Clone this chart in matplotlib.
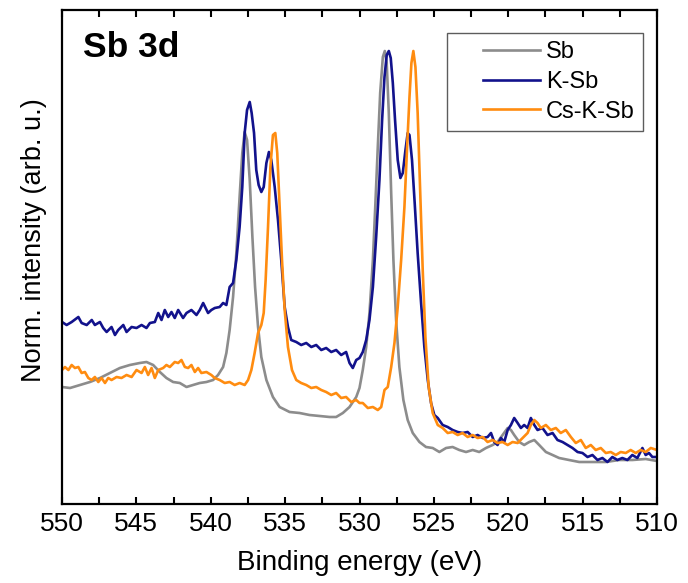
import numpy as np
import matplotlib
matplotlib.use("Agg")
import matplotlib.pyplot as plt
from matplotlib.lines import Line2D
from matplotlib.legend_handler import HandlerLine2D
from matplotlib.ticker import MultipleLocator

plt.rcParams["font.family"] = ["Liberation Sans", "DejaVu Sans"]

# Sb 3d XPS spectra: binding energy (eV) and raw intensity (arb. units)
sb_energy = [550.0, 549.46, 548.79, 548.12, 547.45, 546.78, 546.11, 545.44, 544.77, 544.32,
             543.87, 543.42, 542.98, 542.53, 542.08, 541.63, 541.19, 540.74, 540.29, 539.84,
             539.51, 539.17, 538.95, 538.73, 538.5, 538.28, 538.06, 537.88, 537.72, 537.56,
             537.38, 537.2, 537.02, 536.82, 536.6, 536.26, 535.82, 535.37, 534.7, 534.03,
             533.36, 532.68, 532.01, 531.57, 531.12, 530.67, 530.22, 530.0, 529.78, 529.55,
             529.33, 529.1, 528.93, 528.77, 528.61, 528.43, 528.3, 528.17, 528.03, 527.87,
             527.72, 527.54, 527.32, 527.05, 526.76, 526.42, 525.97, 525.53, 525.08, 524.63,
             524.18, 523.74, 523.29, 522.84, 522.39, 521.95, 521.5, 521.05, 520.72, 520.38,
             520.04, 519.82, 519.6, 519.26, 518.93, 518.59, 518.25, 517.92, 517.47, 517.02,
             516.58, 515.91, 515.23, 514.34, 513.44, 512.55, 511.66, 510.76, 510.0]
sb_counts = [117, 116, 119, 122, 126, 131, 136, 139, 141, 142,
             139, 132, 126, 122, 121, 117, 119, 121, 122, 124,
             129, 137, 151, 174, 207, 251, 307, 351, 372, 364,
             324, 267, 217, 177, 147, 124, 107, 97, 92, 91,
             89, 88, 87, 87, 91, 97, 107, 116, 134, 157,
             191, 244, 301, 357, 411, 447, 453, 441, 391, 311,
             244, 184, 137, 104, 84, 71, 62, 57, 56, 52,
             56, 57, 54, 52, 54, 52, 56, 59, 62, 69,
             76, 74, 69, 62, 59, 62, 64, 59, 52, 49,
             46, 44, 42, 42, 42, 44, 44, 45, 43]

ksb_energy = [550.0, 549.69, 549.35, 548.9, 548.68, 548.34, 548.0, 547.79, 547.45, 547.23,
              547.0, 546.67, 546.44, 546.22, 545.88, 545.66, 545.32, 544.99, 544.65, 544.32,
              544.09, 543.76, 543.53, 543.31, 543.09, 542.86, 542.64, 542.42, 542.19, 541.86,
              541.63, 541.3, 540.96, 540.74, 540.51, 540.18, 539.96, 539.73, 539.4, 539.17,
              538.95, 538.73, 538.5, 538.28, 538.06, 537.88, 537.72, 537.56, 537.38, 537.25,
              537.09, 536.94, 536.78, 536.6, 536.44, 536.26, 536.09, 535.93, 535.7, 535.48,
              535.26, 535.03, 534.81, 534.59, 534.25, 533.92, 533.58, 533.24, 532.91, 532.57,
              532.24, 531.9, 531.57, 531.23, 530.9, 530.67, 530.45, 530.22, 530.0, 529.78,
              529.55, 529.33, 529.1, 528.88, 528.66, 528.48, 528.32, 528.17, 528.03, 527.9,
              527.76, 527.61, 527.43, 527.25, 527.09, 526.91, 526.76, 526.64, 526.47, 526.29,
              526.09, 525.86, 525.64, 525.41, 525.19, 524.97, 524.74, 524.41, 524.07, 523.74,
              523.4, 523.07, 522.73, 522.39, 522.06, 521.72, 521.39, 521.16, 520.94, 520.72,
              520.49, 520.27, 520.04, 519.82, 519.6, 519.37, 519.15, 518.93, 518.7, 518.48,
              518.25, 518.03, 517.7, 517.36, 517.02, 516.69, 516.35, 516.02, 515.68, 515.34,
              515.01, 514.67, 514.34, 514.0, 513.67, 513.33, 513.0, 512.66, 512.33, 511.99,
              511.66, 511.32, 510.98, 510.76, 510.54, 510.31, 510.0]
ksb_counts = [182, 179, 182, 187, 181, 179, 184, 179, 182, 176,
              172, 177, 169, 174, 179, 172, 177, 176, 179, 176,
              181, 182, 191, 184, 194, 187, 192, 186, 194, 186,
              191, 194, 189, 194, 201, 191, 194, 196, 197, 201,
              199, 217, 221, 244, 277, 317, 371, 394, 402, 391,
              371, 334, 319, 312, 317, 341, 352, 344, 317, 284,
              244, 197, 177, 164, 162, 159, 161, 157, 159, 154,
              156, 152, 154, 149, 152, 141, 136, 144, 146, 152,
              164, 184, 217, 267, 324, 384, 427, 449, 453, 446,
              421, 384, 344, 326, 331, 354, 371, 369, 344, 301,
              251, 201, 157, 124, 101, 89, 86, 79, 77, 74,
              72, 71, 72, 67, 69, 66, 67, 71, 62, 59,
              66, 62, 74, 79, 86, 81, 76, 79, 76, 86,
              79, 74, 76, 69, 71, 64, 62, 59, 56, 52,
              51, 47, 49, 44, 46, 42, 47, 44, 46, 44,
              49, 46, 56, 49, 51, 47, 47]

cksb_energy = [550.0, 549.8, 549.57, 549.35, 549.13, 548.9, 548.68, 548.46, 548.23, 548.01,
               547.79, 547.56, 547.34, 547.11, 546.89, 546.67, 546.33, 546.0, 545.66, 545.32,
               544.99, 544.65, 544.43, 544.21, 543.98, 543.76, 543.53, 543.2, 542.98, 542.75,
               542.42, 542.19, 541.97, 541.74, 541.52, 541.3, 541.07, 540.85, 540.63, 540.29,
               539.96, 539.73, 539.4, 539.06, 538.73, 538.39, 538.06, 537.72, 537.49, 537.27,
               537.05, 536.82, 536.6, 536.44, 536.31, 536.15, 535.99, 535.82, 535.66, 535.53,
               535.37, 535.21, 535.03, 534.81, 534.54, 534.25, 533.92, 533.58, 533.24, 532.91,
               532.57, 532.24, 531.9, 531.57, 531.23, 530.9, 530.56, 530.22, 530.0, 529.78,
               529.44, 529.1, 528.77, 528.54, 528.32, 528.1, 527.87, 527.65, 527.43, 527.2,
               526.98, 526.8, 526.64, 526.51, 526.38, 526.24, 526.09, 525.93, 525.75, 525.57,
               525.35, 525.08, 524.74, 524.41, 524.07, 523.74, 523.4, 523.07, 522.73, 522.39,
               522.06, 521.72, 521.39, 521.05, 520.72, 520.38, 520.04, 519.71, 519.37, 519.04,
               518.7, 518.48, 518.25, 518.03, 517.81, 517.47, 517.14, 516.8, 516.47, 516.13,
               515.79, 515.46, 515.12, 514.79, 514.45, 514.12, 513.78, 513.44, 513.11, 512.77,
               512.44, 512.1, 511.77, 511.43, 511.1, 510.76, 510.42, 510.0]
cksb_counts = [134, 137, 134, 139, 136, 137, 131, 132, 126, 124,
               127, 122, 126, 121, 126, 124, 127, 126, 129, 127,
               134, 131, 137, 129, 136, 126, 134, 136, 139, 137,
               142, 141, 144, 137, 136, 139, 132, 136, 131, 132,
               129, 126, 124, 121, 122, 119, 121, 119, 124, 134,
               151, 171, 179, 191, 224, 277, 337, 369, 371, 351,
               297, 244, 194, 157, 134, 124, 121, 119, 116, 117,
               114, 112, 109, 111, 106, 107, 102, 104, 101, 101,
               96, 97, 94, 97, 114, 117, 137, 161, 197, 244,
               297, 357, 407, 441, 453, 437, 391, 317, 234, 167,
               117, 91, 79, 76, 71, 72, 69, 71, 67, 69,
               66, 67, 62, 64, 61, 62, 59, 62, 61, 66,
               71, 79, 84, 81, 76, 79, 74, 76, 71, 74,
               67, 61, 64, 56, 59, 54, 56, 51, 52, 49,
               52, 51, 54, 51, 54, 52, 56, 54]

series = [
    ("Sb", sb_energy, sb_counts, "#8c8c8c"),
    ("K-Sb", ksb_energy, ksb_counts, "#12128c"),
    ("Cs-K-Sb", cksb_energy, cksb_counts, "#ff8c10"),
]

fig = plt.figure(figsize=(6.88, 5.83), dpi=100)
ax = fig.add_axes([62 / 688, 79 / 583, 595 / 688, 494 / 583])

for label, e, c, color in series:
    c = np.asarray(c, dtype=float)
    ax.plot(e, c / c.max(), color=color, lw=1.9, label=label,
            solid_joinstyle="round")

ax.set_xlim(550, 510)
ax.set_ylim(0, 494 / 453)
ax.xaxis.set_major_locator(MultipleLocator(5))
ax.xaxis.set_minor_locator(MultipleLocator(2.5))
ax.tick_params(axis="x", which="both", direction="in", top=True, bottom=True,
               length=5, width=1.5, labelsize=19, pad=6)
ax.set_yticks([])
for sp in ax.spines.values():
    sp.set_linewidth(1.6)

ax.set_xlabel("Binding energy (eV)", fontsize=20, labelpad=10)
ax.set_ylabel("Norm. intensity (arb. u.)", fontsize=19.5)
ax.yaxis.set_label_coords(-0.025, 0.535)

ax.text(0.035, 0.905, "Sb 3d", transform=ax.transAxes, fontsize=25.5,
        fontweight="bold", va="baseline", ha="left")

leg = ax.legend(loc="upper right", bbox_to_anchor=(0.976, 0.953),
                borderaxespad=0, fontsize=17, frameon=True, fancybox=False,
                handlelength=3.6, handletextpad=0.25, labelspacing=0.32,
                borderpad=0.35,
                handler_map={Line2D: HandlerLine2D(xpad=1.2)})
leg.get_frame().set_edgecolor("#333333")
leg.get_frame().set_linewidth(1.0)

fig.savefig("out.png", dpi=100)
